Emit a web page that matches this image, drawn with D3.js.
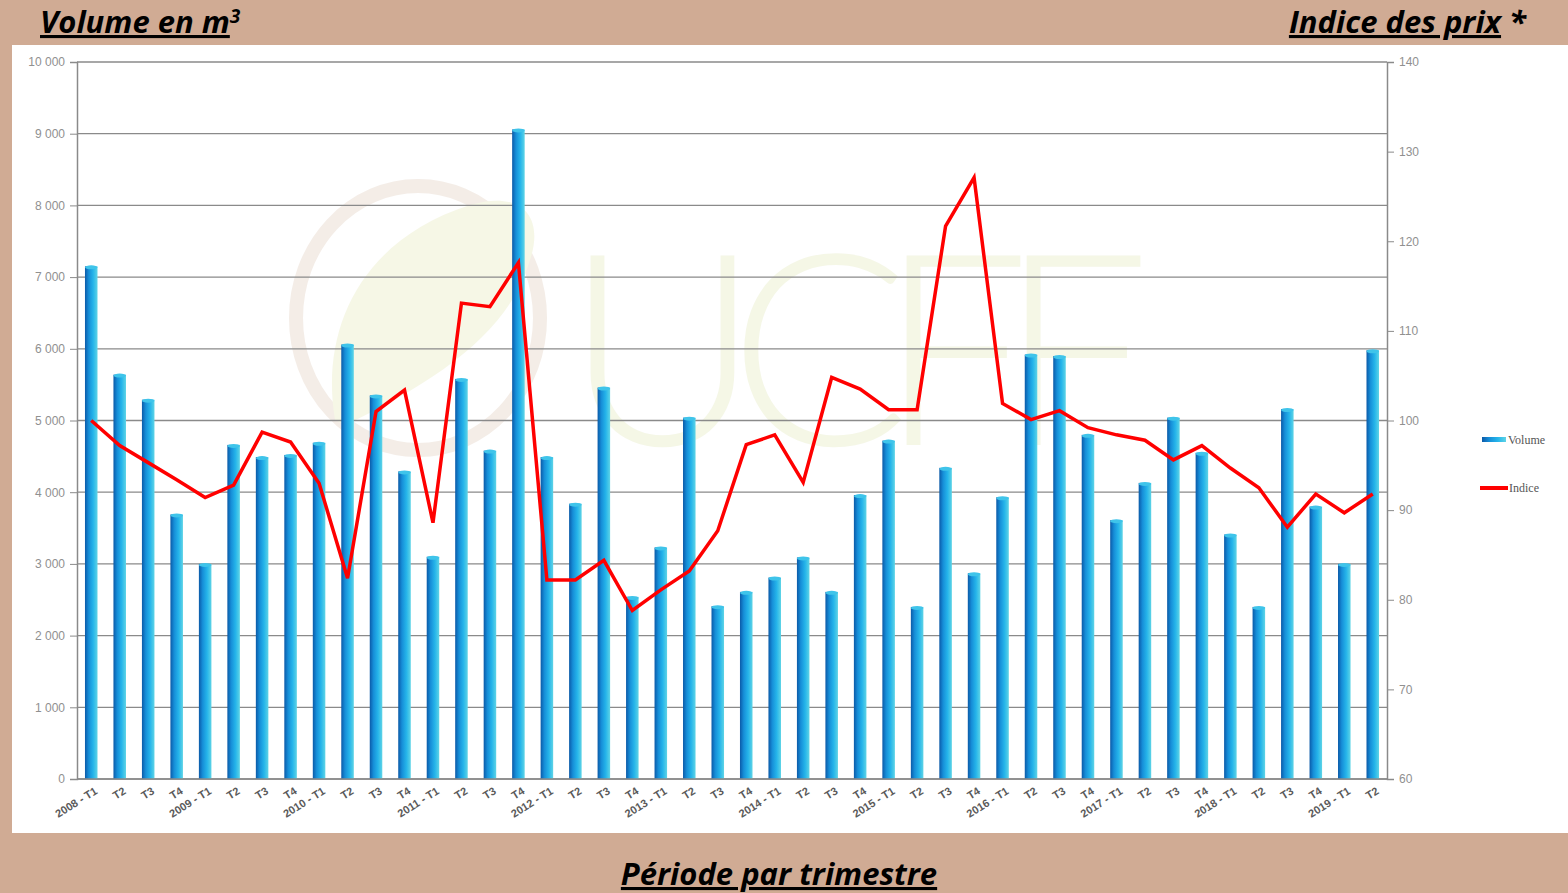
<!DOCTYPE html>
<html>
<head>
<meta charset="utf-8">
<script src="https://cdn.jsdelivr.net/npm/d3@7"></script>
<style>
  html, body { margin: 0; padding: 0; background: #d0ab94; }
  svg { display: block; }
</style>
</head>
<body>
<script>
// trimestres 2008 T1 -> 2019 T2
const periods = [
  "2008 - T1", "T2", "T3", "T4",
  "2009 - T1", "T2", "T3", "T4",
  "2010 - T1", "T2", "T3", "T4",
  "2011 - T1", "T2", "T3", "T4",
  "2012 - T1", "T2", "T3", "T4",
  "2013 - T1", "T2", "T3", "T4",
  "2014 - T1", "T2", "T3", "T4",
  "2015 - T1", "T2", "T3", "T4",
  "2016 - T1", "T2", "T3", "T4",
  "2017 - T1", "T2", "T3", "T4",
  "2018 - T1", "T2", "T3", "T4",
  "2019 - T1", "T2"
];

// volume en m3
const volume = [
  7150, 5640, 5290, 3690,
  3000, 4660, 4490, 4520,
  4690, 6060, 5350, 4290,
  3100, 5580, 4580, 9060,
  4490, 3840, 5460, 2540,
  3230, 5040, 2410, 2610,
  2810, 3090, 2610, 3960,
  4720, 2400, 4340, 2870,
  3930, 5920, 5900, 4800,
  3610, 4130, 5040, 4550,
  3410, 2400, 5160, 3800,
  3000, 5980
];

// indice des prix
const indice = [
  100.0, 97.2, 95.3, 93.4,
  91.4, 92.8, 98.7, 97.6,
  93.0, 82.4, 101.0, 103.4,
  88.6, 113.1, 112.7, 117.6,
  82.2, 82.2, 84.4, 78.8,
  81.1, 83.2, 87.7, 97.3,
  98.4, 93.1, 104.8, 103.5,
  101.2, 101.2, 121.7, 127.1,
  101.9, 100.1, 101.1, 99.2,
  98.4, 97.8, 95.6, 97.2,
  94.7, 92.5, 88.1, 91.8,
  89.7, 91.8
];

const volumeTicks = [0, 1000, 2000, 3000, 4000, 5000, 6000, 7000, 8000, 9000, 10000];
const indiceTicks = [60, 70, 80, 90, 100, 110, 120, 130, 140];
const legendItems = ["Volume", "Indice"];

const W = 1568, H = 893;
const plot = { left: 77, right: 1387, top: 62, bottom: 779 };

const svg = d3.select("body").append("svg")
    .attr("width", W)
    .attr("height", H);

// fond blanc du graphique
svg.append("rect")
    .attr("x", 12).attr("y", 45)
    .attr("width", W - 12).attr("height", 788)
    .attr("fill", "#ffffff");

const defs = svg.append("defs");
const grad = defs.append("linearGradient")
    .attr("id", "barGrad")
    .attr("x1", "0%").attr("x2", "100%").attr("y1", "0%").attr("y2", "0%");
grad.append("stop").attr("offset", "0%").attr("stop-color", "#0b5aa8");
grad.append("stop").attr("offset", "30%").attr("stop-color", "#168ed8");
grad.append("stop").attr("offset", "65%").attr("stop-color", "#25b4ea");
grad.append("stop").attr("offset", "100%").attr("stop-color", "#5ed4e6");

// filigrane UCFF
const wm = svg.append("g").attr("opacity", 0.5);
wm.append("ellipse")
    .attr("cx", 418).attr("cy", 318)
    .attr("rx", 122).attr("ry", 132)
    .attr("fill", "none")
    .attr("stroke", "#eadcd0")
    .attr("stroke-width", 14);
wm.append("path")
    .attr("d", "M335,420 C320,330 360,240 470,205 C520,190 545,215 530,260 C510,330 440,380 345,425 Z")
    .attr("fill", "#eef0cf");
wm.append("text")
    .attr("x", 565).attr("y", 445)
    .attr("font-family", "Lato, sans-serif")
    .attr("font-weight", 300)
    .attr("font-size", 268)
    .attr("textLength", 585)
    .attr("fill", "#ecf0cf")
    .text("UCFF");

const x = d3.scaleBand()
    .domain(periods.map((d, i) => i))
    .range([plot.left, plot.right])
    .paddingInner(0.56)
    .paddingOuter(0.28);

const yL = d3.scaleLinear().domain([0, 10000]).range([plot.bottom, plot.top]);
const yR = d3.scaleLinear().domain([60, 140]).range([plot.bottom, plot.top]);

const fmt = v => d3.format(",")(v).replace(/,/g, " ");

// grille
svg.append("g")
    .selectAll("line")
    .data(volumeTicks)
    .enter().append("line")
    .attr("x1", plot.left).attr("x2", plot.right)
    .attr("y1", d => yL(d)).attr("y2", d => yL(d))
    .attr("stroke", "#8a8a8a")
    .attr("stroke-width", 1.3);

// axe gauche
const axL = svg.append("g")
    .attr("transform", `translate(${plot.left},0)`)
    .call(d3.axisLeft(yL).tickValues(volumeTicks).tickFormat(fmt).tickSize(7).tickPadding(5));
axL.select(".domain").attr("stroke", "#8a8a8a").attr("stroke-width", 1.5);
axL.selectAll(".tick line").attr("stroke", "#8a8a8a");
axL.selectAll("text")
    .attr("fill", "#909090")
    .style("font", "12px 'Liberation Sans', Arial, sans-serif");

// axe droit
const axR = svg.append("g")
    .attr("transform", `translate(${plot.right},0)`)
    .call(d3.axisRight(yR).tickValues(indiceTicks).tickSize(7).tickPadding(5));
axR.select(".domain").attr("stroke", "#8a8a8a").attr("stroke-width", 1.5);
axR.selectAll(".tick line").attr("stroke", "#8a8a8a");
axR.selectAll("text")
    .attr("fill", "#909090")
    .style("font", "12px 'Liberation Sans', Arial, sans-serif");

// barres
svg.append("g")
    .selectAll("rect")
    .data(volume)
    .enter().append("rect")
    .attr("x", (d, i) => x(i))
    .attr("y", d => yL(d))
    .attr("width", x.bandwidth())
    .attr("height", d => plot.bottom - yL(d))
    .attr("fill", "url(#barGrad)");

// chapeau clair des barres
svg.append("g")
    .selectAll("ellipse")
    .data(volume)
    .enter().append("ellipse")
    .attr("cx", (d, i) => x(i) + x.bandwidth() / 2)
    .attr("cy", d => yL(d) + 1)
    .attr("rx", x.bandwidth() / 2)
    .attr("ry", 2)
    .attr("fill", "#3fc4ea");

// axe du bas
svg.append("line")
    .attr("x1", plot.left).attr("x2", plot.right)
    .attr("y1", plot.bottom).attr("y2", plot.bottom)
    .attr("stroke", "#8a8a8a").attr("stroke-width", 1.5);

// ligne indice
const line = d3.line()
    .x((d, i) => x(i) + x.bandwidth() / 2)
    .y(d => yR(d));

svg.append("path")
    .datum(indice)
    .attr("d", line)
    .attr("fill", "none")
    .attr("stroke", "#ff0000")
    .attr("stroke-width", 3.5)
    .attr("stroke-linejoin", "miter");

// libellés x
svg.append("g")
    .selectAll("text")
    .data(periods)
    .enter().append("text")
    .attr("transform", (d, i) => `translate(${x(i) + x.bandwidth() / 2 + 7},${plot.bottom + 14}) rotate(-32)`)
    .attr("text-anchor", "end")
    .attr("fill", "#5a5a5a")
    .style("font", "bold 11px 'Liberation Sans', Arial, sans-serif")
    .text(d => d);

// légende
const leg = svg.append("g")
    .style("font", "12px 'Liberation Serif', 'Times New Roman', serif");
leg.append("rect")
    .attr("x", 1482).attr("y", 437)
    .attr("width", 24).attr("height", 5)
    .attr("fill", "url(#barGrad)");
leg.append("text")
    .attr("x", 1508).attr("y", 444)
    .attr("fill", "#555")
    .text(legendItems[0]);
leg.append("line")
    .attr("x1", 1480).attr("x2", 1508)
    .attr("y1", 488).attr("y2", 488)
    .attr("stroke", "#ff0000").attr("stroke-width", 4);
leg.append("text")
    .attr("x", 1509).attr("y", 492)
    .attr("fill", "#555")
    .text(legendItems[1]);

// titres
const titleFont = "italic bold 31px 'Open Sans', sans-serif";
const tL = svg.append("text")
    .attr("x", 40).attr("y", 33)
    .style("font", titleFont)
    .attr("fill", "#000");
tL.append("tspan").attr("text-decoration", "underline").text("Volume en m");
tL.append("tspan").attr("font-size", 19).attr("dy", -10).text("3");

const tR = svg.append("text")
    .attr("x", 1526).attr("y", 33)
    .attr("text-anchor", "end")
    .style("font", titleFont)
    .attr("fill", "#000");
tR.append("tspan").attr("text-decoration", "underline").text("Indice des prix");
tR.append("tspan").text(" *");

svg.append("text")
    .attr("x", 779).attr("y", 885)
    .attr("text-anchor", "middle")
    .style("font", titleFont)
    .attr("text-decoration", "underline")
    .attr("fill", "#000")
    .text("Période par trimestre");
</script>
</body>
</html>
